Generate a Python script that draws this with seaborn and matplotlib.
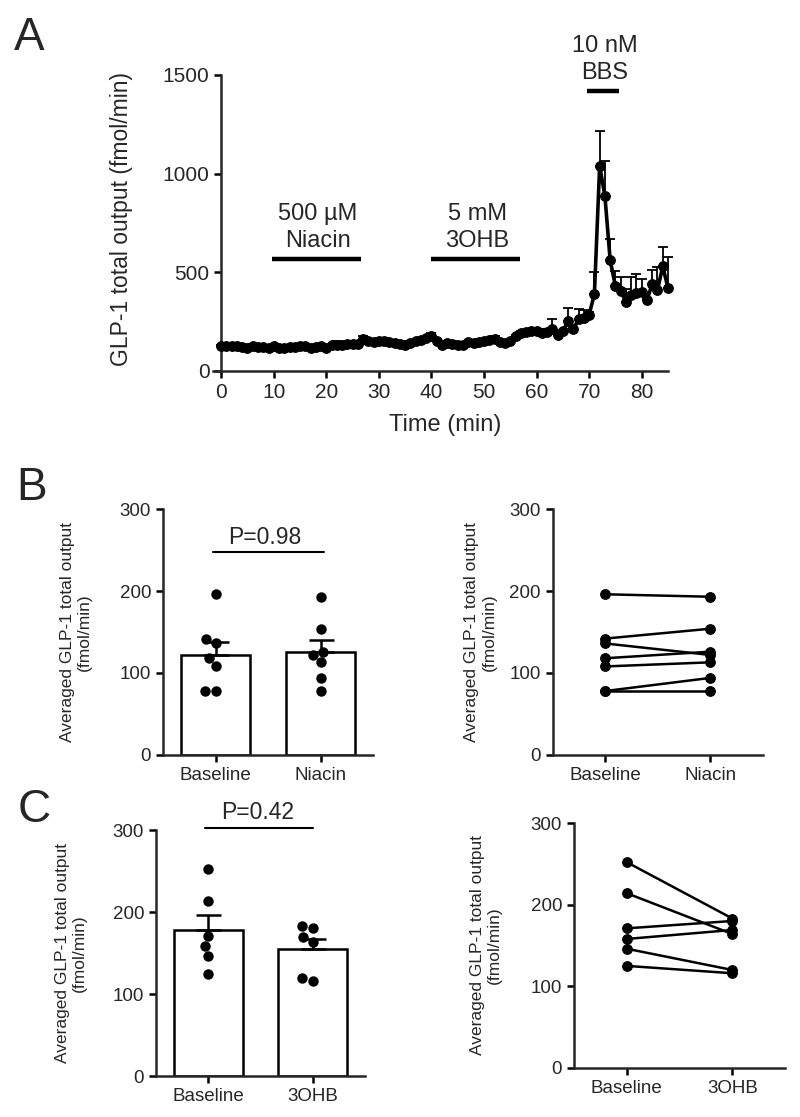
import numpy as np
import pandas as pd
import matplotlib.pyplot as plt
import seaborn as sns

sns.set_style("ticks")
plt.rcParams['font.family'] = ['Liberation Sans', 'DejaVu Sans']
plt.rcParams['axes.linewidth'] = 1.8

#%% data - panel A (time course)
time_min = np.arange(0, 86)
glp1_total = [125, 127, 124, 125, 120, 116, 128, 122, 121, 117,
              125, 114, 118, 120, 122, 125, 124, 115, 120, 127,
              118, 130, 134, 130, 137, 138, 135, 160, 150, 146,
              150, 151, 145, 140, 135, 134, 142, 150, 158, 165,
              175, 150, 133, 140, 135, 130, 134, 145, 140, 147,
              150, 155, 160, 145, 140, 150, 175, 190, 198, 205,
              200, 190, 195, 215, 180, 200, 255, 213, 262, 268,
              285, 390, 1040, 885, 560, 430, 405, 350, 385, 395,
              400, 360, 440, 410, 530, 420]
glp1_sem = [8, 8, 8, 8, 8, 8, 8, 8, 8, 8,
            8, 8, 8, 8, 8, 8, 8, 8, 8, 8,
            8, 8, 20, 8, 8, 8, 8, 15, 8, 8,
            8, 8, 8, 8, 8, 20, 8, 8, 8, 8,
            15, 8, 8, 8, 15, 8, 8, 8, 8, 8,
            8, 8, 15, 8, 8, 8, 8, 12, 8, 8,
            8, 8, 20, 50, 8, 10, 63, 8, 54, 40,
            15, 112, 175, 177, 111, 77, 72, 64, 92, 95,
            68, 10, 74, 118, 100, 158]

# treatment bars: (label line 1, label line 2, start, end, bar level)
treatments = [("500 µM", "Niacin", 9.7, 26.5, 567),
              ("5 mM", "3OHB", 40.0, 56.8, 567),
              ("10 nM", "BBS", 69.5, 75.7, 1420)]

#%% data - panels B and C
niacin_baseline = [196, 142, 136, 118, 108, 78, 78]
niacin_treated = [193, 154, 122, 126, 113, 94, 78]
ohb_baseline = [252, 214, 171, 158, 146, 125]
ohb_treated = [183, 164, 180, 169, 120, 116]

YLABEL = "Averaged GLP-1 total output\n(fmol/min)"


def long_df(base, treat, label):
    n = len(base)
    return pd.DataFrame({'subject': list(range(n)) * 2,
                         'cond': ['Baseline'] * n + [label] * n,
                         'val': base + treat})


def style_small(ax, order, lab_x):
    ax.set_xlim(-0.5, 1.5)
    ax.set_ylim(0, 300)
    ax.set_yticks([0, 100, 200, 300])
    ax.set_xticks([0, 1], order)
    ax.set_xlabel("")
    ax.set_ylabel(YLABEL, fontsize=12.5)
    ax.yaxis.set_label_coords(lab_x, 0.5)
    ax.tick_params(labelsize=13.5, length=5, width=1.8, color='k')
    sns.despine(ax=ax)


def bar_panel(ax, base, treat, label, ptxt, line_y, txt_y, line_x, lab_x):
    df = long_df(base, treat, label)
    order = ['Baseline', label]
    sns.barplot(data=df, x='cond', y='val', order=order, errorbar=None,
                color='white', edgecolor='k', linewidth=1.8, width=0.66, ax=ax)
    stats = df.groupby('cond')['val'].agg(['mean', 'sem']).loc[order]
    ax.errorbar([0, 1], stats['mean'], yerr=[np.zeros(2), stats['sem']],
                fmt='none', ecolor='k', elinewidth=1.8, capsize=9, capthick=1.8,
                zorder=3)
    sns.swarmplot(data=df, x='cond', y='val', order=order, color='k', size=7.5,
                  ax=ax, zorder=4)
    ax.plot(line_x, [line_y, line_y], color='k', lw=1.5, clip_on=False)
    ax.text(0.47, txt_y, ptxt, ha='center', va='baseline', fontsize=16.5)
    style_small(ax, order, lab_x)


def paired_panel(ax, base, treat, label, lab_x):
    df = long_df(base, treat, label)
    order = ['Baseline', label]
    df['pos'] = df['cond'].map({c: i for i, c in enumerate(order)})
    sns.lineplot(data=df, x='pos', y='val', units='subject', estimator=None,
                 color='k', lw=1.8, marker='o', markersize=7,
                 markeredgecolor='k', legend=False, ax=ax)
    style_small(ax, order, lab_x)


#%% figure
fig = plt.figure(figsize=(8, 11.17), dpi=100)

# panel A
axA = fig.add_axes([0.266, 0.6679, 0.569, 0.265])
sns.lineplot(x=time_min, y=glp1_total, color='k', lw=2.6, marker='o',
             markersize=7, markeredgecolor='k', ax=axA, zorder=3,
             clip_on=False)
axA.errorbar(time_min, glp1_total,
             yerr=[np.zeros(len(glp1_sem)), glp1_sem],
             fmt='none', ecolor='k', elinewidth=1.3, capsize=3.5, capthick=1.3,
             zorder=2, clip_on=False)
axA.set_xlim(-1.6, 85)
axA.set_ylim(0, 1500)
axA.spines['left'].set_position(('data', 0))
axA.set_xticks(range(0, 81, 10))
axA.set_yticks([0, 500, 1000, 1500])
axA.tick_params(labelsize=15, length=5, width=1.8, color='k')
axA.set_xlabel("Time (min)", fontsize=17)
axA.set_ylabel("GLP-1 total output (fmol/min)", fontsize=16.5)
axA.yaxis.set_label_coords(-0.175, 0.515)
axA.xaxis.set_label_coords(0.51, -0.145)
sns.despine(ax=axA)
for top, bottom, x0, x1, lvl in treatments:
    axA.plot([x0, x1], [lvl, lvl], color='k', lw=3.2, clip_on=False,
             solid_capstyle='butt')
    xc = (x0 + x1) / 2
    axA.text(xc + 0.3, lvl + 198, top, ha='center', va='baseline',
             fontsize=17)
    axA.text(xc + 0.3, lvl + 61, bottom, ha='center', va='baseline',
             fontsize=17)

# panel B
axB1 = fig.add_axes([0.20375, 0.3241, 0.2625, 0.2202])
bar_panel(axB1, niacin_baseline, niacin_treated, 'Niacin', 'P=0.98',
          247, 257, [-0.02, 1.03], -0.338)
axB2 = fig.add_axes([0.691, 0.3241, 0.2625, 0.2202])
paired_panel(axB2, niacin_baseline, niacin_treated, 'Niacin', -0.267)

# panel C
axC1 = fig.add_axes([0.195, 0.0367, 0.261, 0.2202])
bar_panel(axC1, ohb_baseline, ohb_treated, '3OHB', 'P=0.42',
          302, 313, [-0.03, 1.0], -0.33)
axC2 = fig.add_axes([0.7175, 0.0439, 0.264, 0.2193])
paired_panel(axC2, ohb_baseline, ohb_treated, '3OHB', -0.341)

# panel letters
fig.text(0.018, 0.955, "A", fontsize=33, va='baseline')
fig.text(0.020, 0.5524, "B", fontsize=33, va='baseline')
fig.text(0.022, 0.264, "C", fontsize=33, va='baseline')

fig.savefig("out.png", dpi=100)
